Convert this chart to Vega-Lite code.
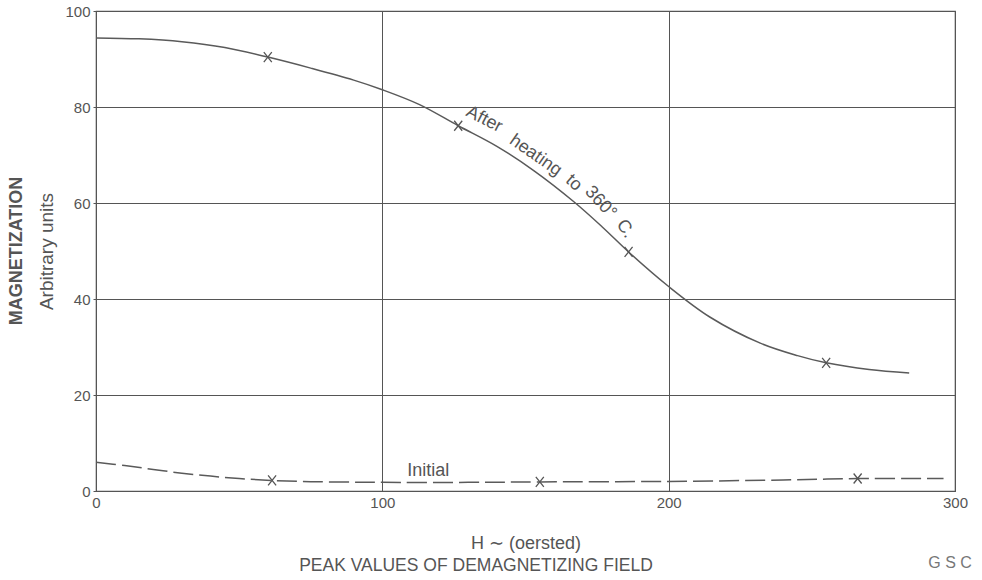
{
  "$schema": "https://vega.github.io/schema/vega-lite/v6.json",
  "width": 859,
  "height": 480,
  "autosize": {"type": "none"},
  "padding": {"left": 96, "top": 11, "right": 27, "bottom": 89},
  "background": "white",
  "config": {
    "view": {"stroke": "#555555", "strokeWidth": 1.2},
    "font": "Liberation Sans"
  },
  "datasets": {
    "after": [
      {"h": 0, "m": 94.4}, {"h": 15, "m": 94.2}, {"h": 30, "m": 93.6}, {"h": 45, "m": 92.4},
      {"h": 60, "m": 90.4}, {"h": 75, "m": 88.1}, {"h": 90, "m": 85.6}, {"h": 100, "m": 83.6},
      {"h": 113, "m": 80.5}, {"h": 126.5, "m": 76.1}, {"h": 140, "m": 71.8}, {"h": 153, "m": 66.7},
      {"h": 167, "m": 60.2}, {"h": 177, "m": 54.9}, {"h": 186, "m": 49.8}, {"h": 200, "m": 42.6},
      {"h": 214.5, "m": 36.2}, {"h": 232, "m": 30.8}, {"h": 245, "m": 28.2}, {"h": 255, "m": 26.7},
      {"h": 270, "m": 25.3}, {"h": 284, "m": 24.6}
    ],
    "initial": [
      {"h": 0, "m": 6.0}, {"h": 10, "m": 5.3}, {"h": 20, "m": 4.5}, {"h": 30, "m": 3.7},
      {"h": 40, "m": 3.1}, {"h": 50, "m": 2.6}, {"h": 61.5, "m": 2.2}, {"h": 75, "m": 1.95},
      {"h": 90, "m": 1.85}, {"h": 100, "m": 1.8}, {"h": 130, "m": 1.8}, {"h": 155, "m": 1.9},
      {"h": 200, "m": 2.0}, {"h": 240, "m": 2.3}, {"h": 266, "m": 2.6}, {"h": 296, "m": 2.6}
    ],
    "markers": [
      {"h": 60, "m": 90.4}, {"h": 126.5, "m": 76.1}, {"h": 186, "m": 49.8}, {"h": 255, "m": 26.7},
      {"h": 61.5, "m": 2.2}, {"h": 155, "m": 1.9}, {"h": 266, "m": 2.6}
    ],
    "words": [
      {"h": 135.6, "m": 77.4, "label": "After"},
      {"h": 153.5, "m": 69.9, "label": "heating"},
      {"h": 166.8, "m": 64.2, "label": "to"},
      {"h": 176.2, "m": 60.1, "label": "360°"},
      {"h": 184.8, "m": 54.6, "label": "C."},
      {"h": 116, "m": 4.2, "label": "Initial"},
      {"h": 132.7, "m": -15.6, "label": "PEAK VALUES OF DEMAGNETIZING FIELD"},
      {"h": 298.3, "m": -15.0, "label": "G S C"},
      {"h": -27.6, "m": 50, "label": "MAGNETIZATION"}
    ]
  },
  "layer": [
    {
      "data": {"name": "after"},
      "mark": {"type": "line", "interpolate": "catmull-rom", "color": "#5a5a5a", "strokeWidth": 1.5},
      "encoding": {
        "x": {
          "field": "h", "type": "quantitative",
          "scale": {"domain": [0, 300], "nice": false},
          "axis": {
            "values": [0, 100, 200, 300], "grid": true, "gridColor": "#555555", "gridOpacity": 1, "gridWidth": 1,
            "domain": false, "ticks": false, "labelFontSize": 15, "labelColor": "#555555", "labelPadding": 4,
            "labelFlush": false,
            "title": "H ∼ (oersted)", "titleFontSize": 18, "titleFontWeight": "normal", "titleColor": "#555555",
            "titlePadding": 24
          }
        },
        "y": {
          "field": "m", "type": "quantitative",
          "scale": {"domain": [0, 100], "nice": false},
          "axis": {
            "values": [0, 20, 40, 60, 80, 100], "grid": true, "gridColor": "#555555", "gridOpacity": 1, "gridWidth": 1,
            "domain": false, "ticks": true, "tickSize": 3, "tickColor": "#555555", "labelFontSize": 15, "labelColor": "#555555",
            "labelPadding": 3, "labelFlush": false,
            "title": "Arbitrary units", "titleFontSize": 19, "titleFontWeight": "normal", "titleColor": "#555555",
            "titlePadding": 8
          }
        }
      }
    },
    {
      "data": {"name": "initial"},
      "mark": {"type": "line", "interpolate": "catmull-rom", "color": "#5a5a5a", "strokeWidth": 1.5, "strokeDash": [20, 6]},
      "encoding": {"x": {"field": "h", "type": "quantitative"}, "y": {"field": "m", "type": "quantitative"}}
    },
    {
      "data": {"name": "markers"},
      "mark": {"type": "point", "shape": "M-0.8,-1L0.8,1M0.8,-1L-0.8,1", "size": 100, "filled": false, "stroke": "#555555", "strokeWidth": 1.3, "opacity": 1},
      "encoding": {"x": {"field": "h", "type": "quantitative"}, "y": {"field": "m", "type": "quantitative"}}
    },
    {
      "data": {"name": "words"},
      "transform": [{"filter": "datum.label == 'After'"}],
      "mark": {"type": "text", "fontSize": 18, "color": "#555555", "angle": 27, "align": "center", "baseline": "middle"},
      "encoding": {"x": {"field": "h", "type": "quantitative"}, "y": {"field": "m", "type": "quantitative"}, "text": {"field": "label"}}
    },
    {
      "data": {"name": "words"},
      "transform": [{"filter": "datum.label == 'heating'"}],
      "mark": {"type": "text", "fontSize": 18, "color": "#555555", "angle": 35, "align": "center", "baseline": "middle"},
      "encoding": {"x": {"field": "h", "type": "quantitative"}, "y": {"field": "m", "type": "quantitative"}, "text": {"field": "label"}}
    },
    {
      "data": {"name": "words"},
      "transform": [{"filter": "datum.label == 'to'"}],
      "mark": {"type": "text", "fontSize": 18, "color": "#555555", "angle": 42, "align": "center", "baseline": "middle"},
      "encoding": {"x": {"field": "h", "type": "quantitative"}, "y": {"field": "m", "type": "quantitative"}, "text": {"field": "label"}}
    },
    {
      "data": {"name": "words"},
      "transform": [{"filter": "datum.label == '360°'"}],
      "mark": {"type": "text", "fontSize": 18, "color": "#555555", "angle": 47, "align": "center", "baseline": "middle"},
      "encoding": {"x": {"field": "h", "type": "quantitative"}, "y": {"field": "m", "type": "quantitative"}, "text": {"field": "label"}}
    },
    {
      "data": {"name": "words"},
      "transform": [{"filter": "datum.label == 'C.'"}],
      "mark": {"type": "text", "fontSize": 18, "color": "#555555", "angle": 56, "align": "center", "baseline": "middle"},
      "encoding": {"x": {"field": "h", "type": "quantitative"}, "y": {"field": "m", "type": "quantitative"}, "text": {"field": "label"}}
    },
    {
      "data": {"name": "words"},
      "transform": [{"filter": "datum.label == 'Initial'"}],
      "mark": {"type": "text", "fontSize": 18, "color": "#555555", "align": "center", "baseline": "middle"},
      "encoding": {"x": {"field": "h", "type": "quantitative"}, "y": {"field": "m", "type": "quantitative"}, "text": {"field": "label"}}
    },
    {
      "data": {"name": "words"},
      "transform": [{"filter": "datum.label == 'PEAK VALUES OF DEMAGNETIZING FIELD'"}],
      "mark": {"type": "text", "fontSize": 17.5, "color": "#555555", "align": "center", "baseline": "middle"},
      "encoding": {"x": {"field": "h", "type": "quantitative"}, "y": {"field": "m", "type": "quantitative"}, "text": {"field": "label"}}
    },
    {
      "data": {"name": "words"},
      "transform": [{"filter": "datum.label == 'G S C'"}],
      "mark": {"type": "text", "fontSize": 16, "color": "#777777", "align": "center", "baseline": "middle"},
      "encoding": {"x": {"field": "h", "type": "quantitative"}, "y": {"field": "m", "type": "quantitative"}, "text": {"field": "label"}}
    },
    {
      "data": {"name": "words"},
      "transform": [{"filter": "datum.label == 'MAGNETIZATION'"}],
      "mark": {"type": "text", "fontSize": 18, "fontWeight": "bold", "color": "#555555", "angle": 270, "align": "center", "baseline": "middle"},
      "encoding": {"x": {"field": "h", "type": "quantitative"}, "y": {"field": "m", "type": "quantitative"}, "text": {"field": "label"}}
    }
  ]
}
